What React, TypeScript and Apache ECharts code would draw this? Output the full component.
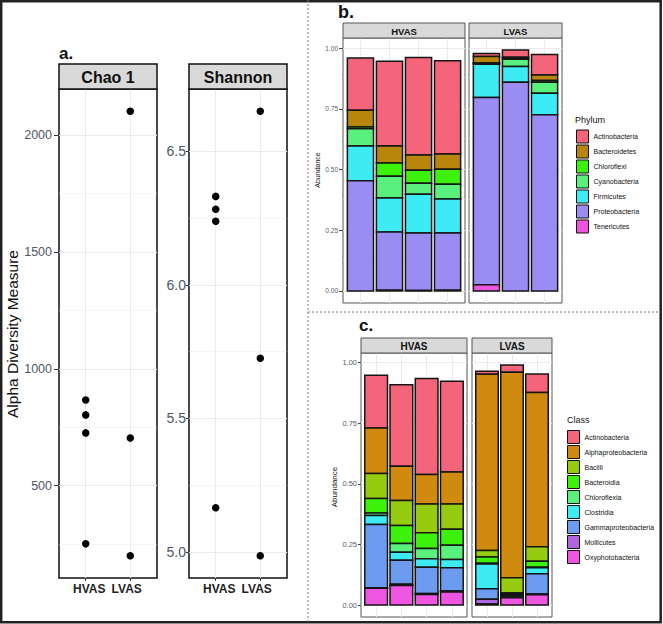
import React, { useEffect, useRef } from "react";
import * as echarts from "echarts";

const FONT = "'Liberation Sans', Arial, Helvetica, sans-serif";

// ---------- panel a data ----------
const groupLabels = ["HVAS", "LVAS"];
const chao1HVAS = [867, 803, 726, 251];
const chao1LVAS = [2103, 704, 200];
const shannonHVAS = [6.331, 6.283, 6.238, 5.165];
const shannonLVAS = [6.65, 5.725, 4.985];
const chao1Ticks = [500, 1000, 1500, 2000];
const chao1Minor = [250, 750, 1250, 1750];
const shannonTicks = [5.0, 5.5, 6.0, 6.5];
const shannonMinor = [5.25, 5.75, 6.25];

// ---------- panel b data (Phylum) ----------
const phylumNames = ["Actinobacteria", "Bacteroidetes", "Chloroflexi", "Cyanobacteria", "Firmicutes", "Proteobacteria", "Tenericutes"];
const phylumColors = ["#F4647A", "#B8860B", "#3DF20A", "#5AF07D", "#3DEBF5", "#9A8CF2", "#EE55DD"];
const phylumHVAS = [
  [0.215, 0.350, 0.402, 0.385],
  [0.069, 0.070, 0.062, 0.062],
  [0.007, 0.054, 0.054, 0.062],
  [0.072, 0.090, 0.045, 0.061],
  [0.143, 0.140, 0.160, 0.140],
  [0.454, 0.240, 0.237, 0.236],
  [0.000, 0.003, 0.002, 0.003],
];
const phylumLVAS = [
  [0.013, 0.030, 0.085],
  [0.026, 0.005, 0.023],
  [0.002, 0.003, 0.007],
  [0.004, 0.030, 0.045],
  [0.137, 0.065, 0.089],
  [0.771, 0.860, 0.726],
  [0.026, 0.000, 0.000],
];

// ---------- panel c data (Class) ----------
const classNames = ["Actinobacteria", "Alphaproteobacteria", "Bacilli", "Bacteroidia", "Chloroflexia", "Clostridia", "Gammaproteobacteria", "Mollicutes", "Oxyphotobacteria"];
const classColors = ["#F4647A", "#D08A0E", "#96CC10", "#3DF20A", "#5AF07D", "#3DEBF5", "#6C9BEF", "#B066E0", "#EE55E0"];
const classHVAS = [
  [0.218, 0.337, 0.396, 0.374],
  [0.188, 0.141, 0.121, 0.132],
  [0.103, 0.103, 0.119, 0.105],
  [0.059, 0.074, 0.065, 0.066],
  [0.011, 0.036, 0.042, 0.058],
  [0.037, 0.033, 0.035, 0.034],
  [0.261, 0.099, 0.109, 0.096],
  [0.002, 0.006, 0.004, 0.004],
  [0.069, 0.080, 0.043, 0.054],
];
const classLVAS = [
  [0.012, 0.030, 0.076],
  [0.727, 0.848, 0.637],
  [0.027, 0.062, 0.060],
  [0.026, 0.005, 0.024],
  [0.003, 0.002, 0.002],
  [0.102, 0.003, 0.025],
  [0.043, 0.007, 0.084],
  [0.020, 0.003, 0.003],
  [0.004, 0.030, 0.042],
];
const abundanceTicks = [0, 0.25, 0.5, 0.75, 1];
const abundanceMinor = [0.125, 0.375, 0.625, 0.875];

// ---------- helpers ----------
function expand(lo: number, hi: number) {
  const d = (hi - lo) * 0.05;
  return [lo - d, hi + d];
}

function stackRows(matrix: number[][]) {
  const n = matrix.length;
  const m = matrix[0].length;
  const out: number[][][] = matrix.map(() => []);
  for (let j = 0; j < m; j++) {
    let acc = 0;
    for (let i = n - 1; i >= 0; i--) {
      const v = matrix[i][j];
      out[i].push([j + 1, acc, acc + v]);
      acc += v;
    }
  }
  return out;
}

function maxTotal(matrix: number[][]) {
  let mx = 0;
  for (let j = 0; j < matrix[0].length; j++) {
    let s = 0;
    for (let i = 0; i < matrix.length; i++) s += matrix[i][j];
    mx = Math.max(mx, s);
  }
  return mx;
}

function facetSeries(names: string[], colors: string[], matrix: number[][], idx: number) {
  const stacked = stackRows(matrix);
  return names.map((name, i) => ({
    type: "custom",
    name,
    xAxisIndex: idx,
    yAxisIndex: idx,
    z: 3,
    itemStyle: { color: colors[i] },
    encode: { x: 0, y: [1, 2] },
    data: stacked[i],
    renderItem: (params: any, api: any) => {
      const x = api.value(0);
      const y0 = api.value(1);
      const y1 = api.value(2);
      if (!(y1 > y0)) return null;
      const tl = api.coord([x - 0.45, y1]);
      const br = api.coord([x + 0.45, y0]);
      return {
        type: "rect",
        shape: { x: tl[0], y: tl[1], width: br[0] - tl[0], height: br[1] - tl[1] },
        style: { fill: colors[i], stroke: "#151515", lineWidth: 1.5 },
      };
    },
  }));
}

function gridSeries(idx: number, yMajor: number[], yMinor: number[], xMajor: number[]) {
  const data: any[] = [];
  yMajor.forEach((v) => data.push({ yAxis: v, lineStyle: { width: 1 } }));
  yMinor.forEach((v) => data.push({ yAxis: v, lineStyle: { width: 0.5 } }));
  xMajor.forEach((v) => data.push({ xAxis: v, lineStyle: { width: 1 } }));
  return {
    type: "scatter",
    xAxisIndex: idx,
    yAxisIndex: idx,
    symbolSize: 0,
    silent: true,
    itemStyle: { opacity: 0 },
    data: [[xMajor[0], yMajor[0]]],
    z: 0,
    markLine: {
      z: 1,
      silent: true,
      animation: false,
      symbol: ["none", "none"],
      label: { show: false },
      lineStyle: { color: "#ebebeb", type: "solid", width: 1 },
      emphasis: { disabled: true },
      data,
    },
  };
}

const seq = (n: number) => Array.from({ length: n }, (_, i) => i + 1);

export default function App() {
  const ref = useRef<HTMLDivElement>(null);

  useEffect(() => {
    if (!ref.current) return;
    const chart = echarts.init(ref.current, undefined, { renderer: "svg" });

    const chaoRange = expand(Math.min(...chao1HVAS, ...chao1LVAS), Math.max(...chao1HVAS, ...chao1LVAS));
    const shanRange = expand(Math.min(...shannonHVAS, ...shannonLVAS), Math.max(...shannonHVAS, ...shannonLVAS));
    const bRange = expand(0, Math.max(maxTotal(phylumHVAS), maxTotal(phylumLVAS)));
    const cRange = expand(0, Math.max(maxTotal(classHVAS), maxTotal(classLVAS)));

    const nbH = phylumHVAS[0].length;
    const nbL = phylumLVAS[0].length;
    const ncH = classHVAS[0].length;
    const ncL = classLVAS[0].length;

    const gridBase = { show: true, containLabel: false, outerBoundsMode: "none", backgroundColor: "#fff" };
    const grids = [
      { ...gridBase, left: 59, top: 89, width: 98, height: 489, borderColor: "#111", borderWidth: 1.5 },
      { ...gridBase, left: 189, top: 89, width: 98, height: 489, borderColor: "#111", borderWidth: 1.5 },
      { ...gridBase, left: 343, top: 38, width: 122, height: 265, borderColor: "#555", borderWidth: 1 },
      { ...gridBase, left: 469, top: 38, width: 93, height: 265, borderColor: "#555", borderWidth: 1 },
      { ...gridBase, left: 361, top: 353, width: 106, height: 264, borderColor: "#555", borderWidth: 1 },
      { ...gridBase, left: 472, top: 353, width: 80, height: 264, borderColor: "#555", borderWidth: 1 },
    ];

    const groupX = (v: number) => (v < 1.5 ? groupLabels[0] : groupLabels[1]);
    const aX = (gi: number) => ({
      gridIndex: gi,
      type: "value",
      min: 0.4,
      max: 2.6,
      axisLine: { show: false },
      splitLine: { show: false },
      axisTick: { show: true, customValues: [1, 2], length: 3, lineStyle: { color: "#333" } },
      axisLabel: {
        customValues: [1.08, 1.92],
        formatter: groupX,
        fontWeight: "bold",
        fontSize: 12,
        color: "#222",
        margin: 5,
        fontFamily: FONT,
      },
    });
    const barX = (gi: number, n: number) => ({
      gridIndex: gi,
      type: "value",
      min: 0.4,
      max: n + 0.6,
      axisLine: { show: false },
      splitLine: { show: false },
      axisTick: { show: true, customValues: seq(n), length: 3, lineStyle: { color: "#444" } },
      axisLabel: { show: false },
    });
    const barY = (gi: number, range: number[], labels: boolean, fontSize: number, margin: number, tickLen: number) => ({
      gridIndex: gi,
      type: "value",
      min: range[0],
      max: range[1],
      axisLine: { show: false },
      splitLine: { show: false },
      axisTick: { show: labels, customValues: abundanceTicks, length: tickLen, lineStyle: { color: "#444" } },
      axisLabel: {
        show: labels,
        customValues: abundanceTicks,
        formatter: (v: number) => v.toFixed(2),
        fontSize,
        color: "#55606b",
        margin,
        fontFamily: FONT,
      },
    });

    const xAxis = [aX(0), aX(1), barX(2, nbH), barX(3, nbL), barX(4, ncH), barX(5, ncL)];
    const yAxis = [
      {
        gridIndex: 0,
        type: "value",
        min: chaoRange[0],
        max: chaoRange[1],
        axisLine: { show: false },
        splitLine: { show: false },
        axisTick: { customValues: chao1Ticks, length: 5, lineStyle: { color: "#333" } },
        axisLabel: { customValues: chao1Ticks, formatter: (v: number) => String(v), fontSize: 12.5, color: "#4d5766", margin: 7, fontFamily: FONT },
      },
      {
        gridIndex: 1,
        type: "value",
        min: shanRange[0],
        max: shanRange[1],
        axisLine: { show: false },
        splitLine: { show: false },
        axisTick: { customValues: shannonTicks, length: 3, lineStyle: { color: "#333" } },
        axisLabel: { customValues: shannonTicks, formatter: (v: number) => v.toFixed(1), fontSize: 14, color: "#4d5766", margin: 3, fontFamily: FONT },
      },
      barY(2, bRange, true, 6.5, 5, 4),
      barY(3, bRange, false, 6.5, 5, 4),
      barY(4, cRange, true, 7.5, 4, 3),
      barY(5, cRange, false, 7.5, 4, 3),
    ];

    const pts = (vals: number[], x: number) => vals.map((v) => [x, v]);
    const scatter = (gi: number, h: number[], l: number[]) => ({
      type: "scatter",
      xAxisIndex: gi,
      yAxisIndex: gi,
      z: 4,
      symbolSize: 7.5,
      itemStyle: { color: "#000", opacity: 1 },
      data: [...pts(h, 1), ...pts(l, 2)],
    });

    const series: any[] = [
      gridSeries(0, chao1Ticks, chao1Minor, [1, 2]),
      gridSeries(1, shannonTicks, shannonMinor, [1, 2]),
      gridSeries(2, abundanceTicks, abundanceMinor, seq(nbH)),
      gridSeries(3, abundanceTicks, abundanceMinor, seq(nbL)),
      gridSeries(4, abundanceTicks, abundanceMinor, seq(ncH)),
      gridSeries(5, abundanceTicks, abundanceMinor, seq(ncL)),
      scatter(0, chao1HVAS, chao1LVAS),
      scatter(1, shannonHVAS, shannonLVAS),
      ...facetSeries(phylumNames, phylumColors, phylumHVAS, 2),
      ...facetSeries(phylumNames, phylumColors, phylumLVAS, 3),
      ...facetSeries(classNames, classColors, classHVAS, 4),
      ...facetSeries(classNames, classColors, classLVAS, 5),
    ];

    const strip = (x: number, y: number, w: number, h: number, text: string, fs: number, stroke: string, lw: number) => [
      { type: "rect", z: 6, shape: { x, y, width: w, height: h }, style: { fill: "#d9d9d9", stroke, lineWidth: lw } },
      {
        type: "text",
        z: 7,
        x: x + w / 2,
        y: y + h / 2 + 0.5,
        style: { text, fontSize: fs, fontWeight: "bold", fontFamily: FONT, fill: "#111", align: "center", verticalAlign: "middle" },
      },
    ];
    const label = (x: number, y: number, text: string, fs: number, bold: boolean, rot = 0, align = "left", fill = "#111") => ({
      type: "text",
      z: 7,
      x,
      y,
      rotation: rot,
      style: { text, fontSize: fs, fontWeight: bold ? "bold" : "normal", fontFamily: FONT, fill, align, verticalAlign: "middle" },
    });

    const graphicEls: any[] = [
      { type: "rect", z: 8, shape: { x: 1.2, y: 1.2, width: 659.5, height: 621 }, style: { fill: "none", stroke: "#222", lineWidth: 2.5 } },
      { type: "line", z: 8, shape: { x1: 308, y1: 0, x2: 308, y2: 622 }, style: { stroke: "#777", lineWidth: 1, lineDash: [2, 2] } },
      { type: "line", z: 8, shape: { x1: 308, y1: 312, x2: 660, y2: 312 }, style: { stroke: "#777", lineWidth: 1, lineDash: [2, 2] } },
      ...strip(59, 64, 98, 25, "Chao 1", 16, "#111", 1.5),
      ...strip(189, 64, 98, 25, "Shannon", 16, "#111", 1.5),
      ...strip(343, 23, 122, 15, "HVAS", 9.5, "#555", 1),
      ...strip(469, 23, 93, 15, "LVAS", 9.5, "#555", 1),
      ...strip(361, 338, 106, 15, "HVAS", 10, "#555", 1),
      ...strip(472, 338, 80, 15, "LVAS", 10, "#555", 1),
      label(59, 53, "a.", 17, true),
      label(338, 12, "b.", 18, true),
      label(359, 325, "c.", 17, true),
      label(12, 334, "Alpha Diversity Measure", 15.5, false, Math.PI / 2, "center", "#111"),
      label(317, 170, "Abundance", 7, false, Math.PI / 2, "center", "#111"),
      label(334, 487, "Abundance", 8, false, Math.PI / 2, "center", "#111"),
      label(575, 120, "Phylum", 9, false),
      label(567, 420, "Class", 9, false),
    ];

    const legendBase = {
      orient: "vertical",
      itemWidth: 12,
      itemHeight: 13,
      itemGap: 1,
      icon: "rect",
      padding: 0,
      selectedMode: false,
      itemStyle: { borderColor: "#111", borderWidth: 1 },
      textStyle: { fontSize: 7, color: "#111", fontFamily: FONT },
    };

    chart.setOption({
      animation: false,
      backgroundColor: "#fff",
      textStyle: { fontFamily: FONT },
      grid: grids,
      xAxis,
      yAxis,
      legend: [
        { ...legendBase, left: 576, top: 129.5, data: phylumNames },
        { ...legendBase, left: 567, top: 430, data: classNames },
      ],
      graphic: { elements: graphicEls },
      series,
    });

    return () => chart.dispose();
  }, []);

  return <div ref={ref} style={{ position: "absolute", left: 0, top: 0, width: 663, height: 624, background: "#fff" }} />;
}
